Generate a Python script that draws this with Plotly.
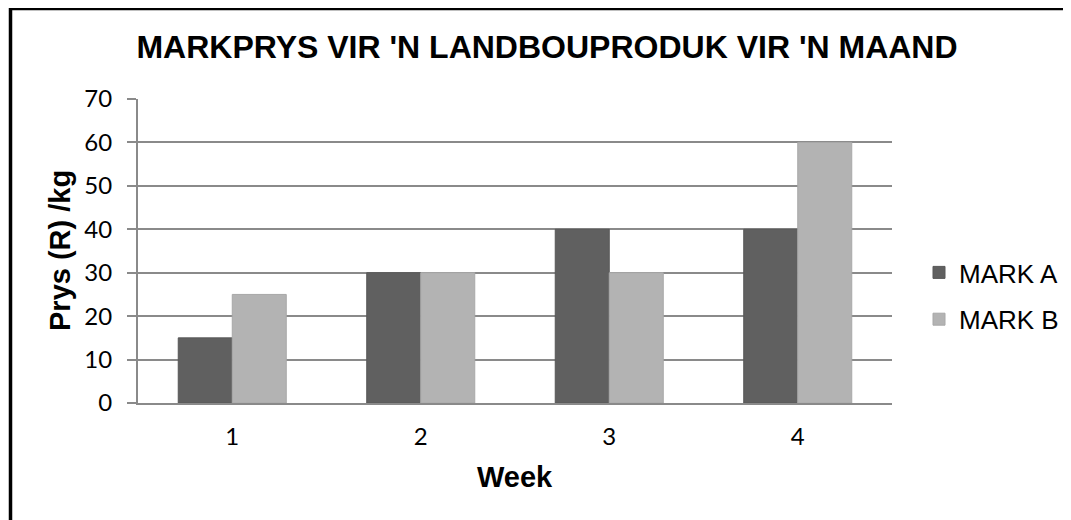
import plotly.graph_objects as go

weeks = ["1", "2", "3", "4"]
mark_a = [15, 30, 40, 40]
mark_b = [25, 30, 30, 60]
series_names = ["MARK A", "MARK B"]
series_colors = ["#606060", "#b3b3b3"]
edge_colors = ["#585858", "#a8a8a8"]
y_ticks = [0, 10, 20, 30, 40, 50, 60, 70]

W, H = 1071, 520
OFF = 8  # page body margin
# plot area in page pixel coords: 138..892 x, 99..403 y
L = 138 - OFF
T = 99 - OFF
R = W - (892 - OFF)
B = H - (403 - OFF)
pw, ph = W - L - R, H - T - B

def px_x(x):  # page px -> paper
    return (x - OFF - L) / pw

def px_y(y):
    return (H - B - (y - OFF)) / ph

fig = go.Figure()
for name, vals, col, ec in zip(series_names, [mark_a, mark_b], series_colors, edge_colors):
    fig.add_trace(go.Bar(x=weeks, y=vals, name=name, marker=dict(color=col, line=dict(color=ec, width=1)),
                         legendgroup=name))

fig.update_layout(
    width=W, height=H,
    margin=dict(l=L, r=R, t=T, b=B, autoexpand=False),
    paper_bgcolor="white", plot_bgcolor="white",
    barmode="group", bargap=0.427, bargroupgap=0,
    title=dict(text="<b>MARKPRYS VIR 'N LANDBOUPRODUK VIR 'N MAAND</b>",
               font=dict(family="Liberation Sans", size=32, color="black"),
               x=(547 - OFF) / W, xanchor="center", y=1 - (46.5 - OFF) / H, yanchor="middle", yref="container"),
    font=dict(family="Liberation Sans", color="black"),
    legend=dict(x=px_x(919), xanchor="left", y=px_y(296), yanchor="middle",
                font=dict(family="Liberation Sans", size=26, color="black"),
                tracegroupgap=10, bgcolor="rgba(0,0,0,0)"),
    showlegend=True,
)
fig.update_yaxes(range=[0, 70], tickvals=y_ticks, showgrid=True, gridcolor="#8a8a8a", gridwidth=2,
                 showline=True, linecolor="#8a8a8a", linewidth=2, ticks="outside", ticklen=9,
                 tickcolor="#8a8a8a", tickwidth=2, zeroline=False,
                 tickfont=dict(family="Lato", size=24, color="black"), ticklabelstandoff=10)
fig.update_xaxes(showline=True, linecolor="#8a8a8a", linewidth=2, ticks="", showgrid=False,
                 tickfont=dict(family="Lato", size=24, color="black"), ticklabelstandoff=11)

fig.add_annotation(text="<b>Week</b>", xref="paper", yref="paper", x=px_x(515), y=px_y(477),
                   showarrow=False, font=dict(family="Liberation Sans", size=29, color="black"),
                   xanchor="center", yanchor="middle")
fig.add_annotation(text="<b>Prys (R) /kg</b>", xref="paper", yref="paper", x=px_x(60), y=px_y(251),
                   showarrow=False, textangle=-90, font=dict(family="Liberation Sans", size=29, color="black"),
                   xanchor="center", yanchor="middle")

fig.add_shape(type="rect", xref="paper", yref="paper", x0=px_x(10.5), y0=-1, x1=2, y1=px_y(8.5),
              line=dict(color="black", width=3.5), fillcolor="rgba(0,0,0,0)", layer="above")

fig.write_html("out.html")
